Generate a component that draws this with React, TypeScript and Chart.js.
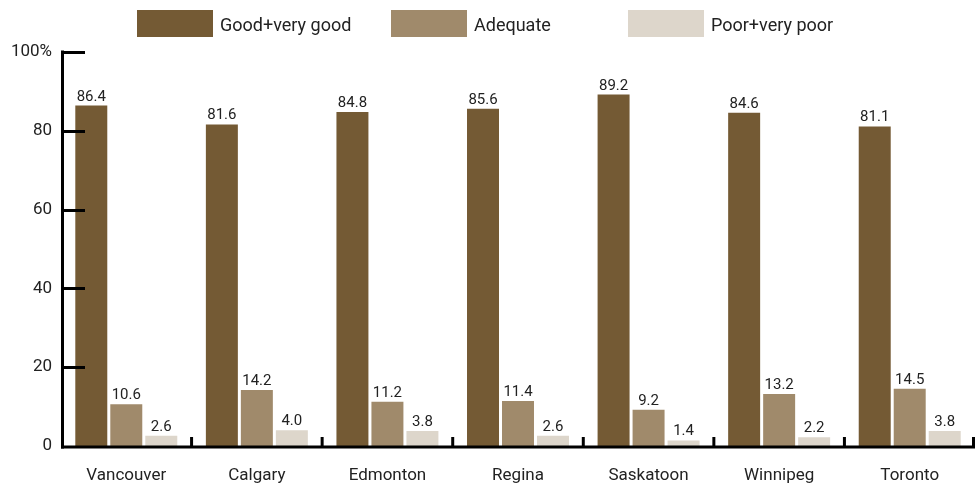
import React, { useEffect, useRef } from "react";
import { Chart, registerables } from "chart.js";

Chart.register(...registerables);

const cities = ["Vancouver", "Calgary", "Edmonton", "Regina", "Saskatoon", "Winnipeg", "Toronto"];
const goodValues = [86.4, 81.6, 84.8, 85.6, 89.2, 84.6, 81.1];
const adequateValues = [10.6, 14.2, 11.2, 11.4, 9.2, 13.2, 14.5];
const poorValues = [2.6, 4.0, 3.8, 2.6, 1.4, 2.2, 3.8];
const seriesNames = ["Good+very good", "Adequate", "Poor+very poor"];
const seriesColors = ["#745a34", "#a08a6b", "#ddd6cb"];

const FONT = "Roboto, 'Liberation Sans', sans-serif";

const axesPlugin = {
  id: "customAxes",
  afterDatasetsDraw(chart: any) {
    const ctx = chart.ctx;
    const area = chart.chartArea;
    const y = chart.scales.y;
    ctx.save();
    ctx.strokeStyle = "#000";
    ctx.lineWidth = 3;
    // y axis line
    ctx.beginPath();
    ctx.moveTo(area.left + 1.5, y.getPixelForValue(100) - 1.5);
    ctx.lineTo(area.left + 1.5, area.bottom + 2.5);
    ctx.stroke();
    // y ticks inward
    y.ticks.forEach((t: any) => {
      const py = Math.round(y.getPixelForValue(t.value)) + 0.5;
      if (t.value === 0) return;
      ctx.beginPath();
      ctx.moveTo(area.left, py);
      ctx.lineTo(area.left + 24, py);
      ctx.stroke();
    });
    // x axis line
    const by = area.bottom + 1;
    ctx.beginPath();
    ctx.moveTo(area.left, by);
    ctx.lineTo(area.right, by);
    ctx.stroke();
    // boundary ticks
    const n = cities.length;
    const w = (area.right - area.left) / n;
    for (let i = 1; i <= n; i++) {
      const px = Math.min(area.left + w * i, area.right - 1.5);
      ctx.beginPath();
      ctx.moveTo(px, by);
      ctx.lineTo(px, by - 10);
      ctx.stroke();
    }
    // data labels
    ctx.fillStyle = "#222";
    ctx.font = `15px ${FONT}`;
    ctx.textAlign = "center";
    ctx.textBaseline = "alphabetic";
    chart.data.datasets.forEach((ds: any, di: number) => {
      const meta = chart.getDatasetMeta(di);
      meta.data.forEach((bar: any, i: number) => {
        ctx.fillText(ds.data[i].toFixed(1), bar.x, bar.y - 5);
      });
    });
    ctx.restore();
  },
};

export default function App() {
  const ref = useRef<HTMLCanvasElement>(null);
  useEffect(() => {
    document.body.style.margin = "0";
    const chart = new Chart(ref.current!, {
      type: "bar",
      data: {
        labels: cities,
        datasets: [goodValues, adequateValues, poorValues].map((d, i) => ({
          label: seriesNames[i],
          data: d,
          backgroundColor: seriesColors[i],
          borderWidth: 0,
          categoryPercentage: 0.804,
          barPercentage: 0.914,
        })),
      },
      options: {
        animation: false,
        responsive: false,
        layout: { padding: { top: 52, right: 1, left: 0, bottom: 0 } },
        plugins: { legend: { display: false }, tooltip: { enabled: false } },
        scales: {
          x: {
            grid: { display: false, drawTicks: false },
            border: { display: false },
            ticks: { color: "#222", font: { family: FONT, size: 17 }, padding: 20 },
            afterFit: (s: any) => { s.height = 41; },
          },
          y: {
            min: 0,
            max: 100,
            grid: { display: false, drawTicks: false },
            border: { display: false },
            ticks: {
              stepSize: 20,
              color: "#222",
              font: { family: FONT, size: 17 },
              padding: 9,
              callback: (v: any) => (v === 100 ? "100%" : String(v)),
            },
            afterFit: (s: any) => { s.width = 61; },
          },
        },
      },
      plugins: [axesPlugin],
    });
    return () => chart.destroy();
  }, []);

  const legendItems = [
    { left: 137, textLeft: 220 },
    { left: 391, textLeft: 474 },
    { left: 628, textLeft: 711 },
  ];

  return (
    <div style={{ position: "relative", width: 976, height: 487, fontFamily: FONT }}>
      <canvas ref={ref} width={976} height={487} style={{ display: "block" }} />
      {legendItems.map((it, i) => (
        <React.Fragment key={i}>
          <div style={{ position: "absolute", left: it.left, top: 10, width: 76, height: 27, background: seriesColors[i] }} />
          <div style={{ position: "absolute", left: it.textLeft, top: 11, height: 27, lineHeight: "27px", fontSize: 18, color: "#222", whiteSpace: "nowrap" }}>
            {seriesNames[i]}
          </div>
        </React.Fragment>
      ))}
    </div>
  );
}
